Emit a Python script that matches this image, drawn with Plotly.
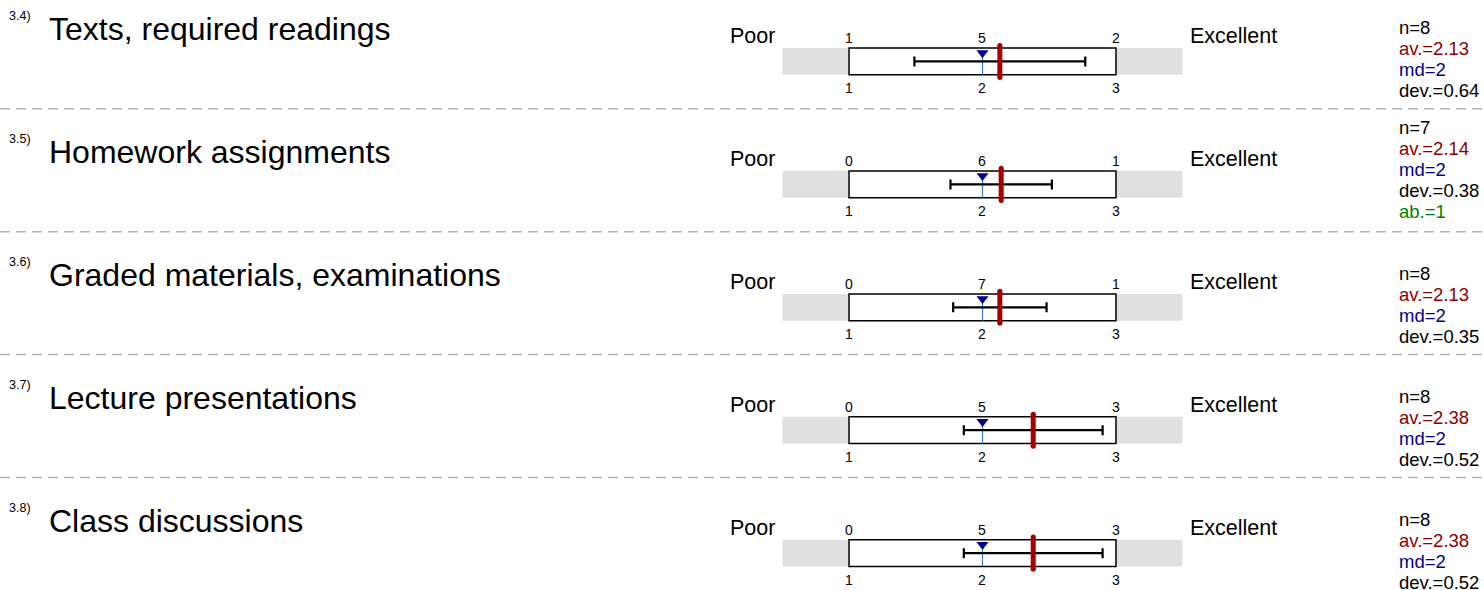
import plotly.graph_objects as go

# ---------------- data ----------------
numbers = ["3.4)", "3.5)", "3.6)", "3.7)", "3.8)"]
items = ["Texts, required readings", "Homework assignments",
         "Graded materials, examinations", "Lecture presentations",
         "Class discussions"]
scale_values = [1, 2, 3]
scale_labels = ["1", "2", "3"]
counts = [[1, 5, 2], [0, 6, 1], [0, 7, 1], [0, 5, 3], [0, 5, 3]]
n_resp = [8, 7, 8, 8, 8]
averages = [2.13, 2.14, 2.13, 2.38, 2.38]
medians = [2, 2, 2, 2, 2]
deviations = [0.64, 0.38, 0.35, 0.52, 0.52]
abstentions = [None, 1, None, None, None]
left_pole = "Poor"
right_pole = "Excellent"

# ---------------- styling ----------------
W, H = 1484, 590
ROW_PX = 122.9
FONT = "Liberation Sans, Arial, sans-serif"
C_MEAN = "#a80000"
C_AV = "#8b0000"
C_MD = "#00008b"
C_AB = "#008000"
C_MEDLINE = "#3a7cc4"
C_BAND = "#e0e0e0"
C_SEP = "#b4b4b4"


def u(px):
    return px / ROW_PX


rows = list(range(len(items)))
smin, smax = min(scale_values), max(scale_values)
half = 0.5

fig = go.Figure()

# gray band and white box per row
for r in rows:
    fig.add_shape(type="rect", xref="x", yref="y", layer="below",
                  x0=smin - half, x1=smax + half, y0=r - u(13.4), y1=r + u(13.4),
                  fillcolor=C_BAND, line=dict(width=0))
    fig.add_shape(type="rect", xref="x", yref="y", layer="below",
                  x0=smin, x1=smax, y0=r - u(13.4), y1=r + u(13.4),
                  fillcolor="white", line=dict(color="black", width=1.5))
    if r < len(items) - 1:
        fig.add_shape(type="line", xref="paper", yref="y", x0=0, x1=1,
                      y0=r + u(47.3), y1=r + u(47.3),
                      line=dict(color=C_SEP, width=1.5, dash="10px,6px"))

# median thin line
mx, my = [], []
for r in rows:
    mx += [medians[r], medians[r], None]
    my += [r - u(8), r + u(13.4), None]
fig.add_trace(go.Scatter(x=mx, y=my, mode="lines",
                         line=dict(color=C_MEDLINE, width=1.2),
                         hoverinfo="skip", showlegend=False))

# standard deviation error bars
fig.add_trace(go.Scatter(x=averages, y=rows, mode="markers",
                         marker=dict(size=1, color="rgba(0,0,0,0)"),
                         error_x=dict(type="data", array=deviations, symmetric=True,
                                      color="black", thickness=2.2, width=5),
                         hoverinfo="skip", showlegend=False))

# median triangle
fig.add_trace(go.Scatter(x=medians, y=[r - u(8.5) for r in rows], mode="markers",
                         marker=dict(symbol="triangle-down", size=10.5, color=C_MD,
                                     line=dict(width=0)),
                         hoverinfo="skip", showlegend=False))

# mean thick red line
ax, ay = [], []
for r in rows:
    ax += [averages[r], averages[r], None]
    ay += [r - u(16), r + u(16), None]
fig.add_trace(go.Scatter(x=ax, y=ay, mode="lines+markers",
                         line=dict(color=C_MEAN, width=5),
                         marker=dict(size=5, color=C_MEAN),
                         hoverinfo="skip", showlegend=False))

ann = []
for r in rows:
    ann.append(dict(xref="paper", yref="y", x=7 / W, y=r, yshift=45,
                    text=numbers[r], xanchor="left", yanchor="middle",
                    showarrow=False, font=dict(size=12.5, color="black", family=FONT)))
    ann.append(dict(xref="paper", yref="y", x=47 / W, y=r, yshift=32,
                    text=items[r], xanchor="left", yanchor="middle",
                    showarrow=False, font=dict(size=32, color="black", family=FONT)))
    ann.append(dict(xref="paper", yref="y", x=777 / W, y=r, yshift=25.5,
                    text=left_pole, xanchor="right", yanchor="middle",
                    showarrow=False, font=dict(size=21.5, color="black", family=FONT)))
    ann.append(dict(xref="paper", yref="y", x=1188 / W, y=r, yshift=25.5,
                    text=right_pole, xanchor="left", yanchor="middle",
                    showarrow=False, font=dict(size=21.5, color="black", family=FONT)))
    for v, lab, c in zip(scale_values, scale_labels, counts[r]):
        ann.append(dict(xref="x", yref="y", x=v, y=r, yshift=23,
                        text=str(c), xanchor="center", yanchor="middle",
                        showarrow=False, font=dict(size=14, color="black", family=FONT)))
        ann.append(dict(xref="x", yref="y", x=v, y=r, yshift=-26.5,
                        text=lab, xanchor="center", yanchor="middle",
                        showarrow=False, font=dict(size=14, color="black", family=FONT)))
    lines = [(f"n={n_resp[r]}", "black"),
             (f"av.={averages[r]:.2f}", C_AV),
             (f"md={medians[r]}", C_MD),
             (f"dev.={deviations[r]:.2f}", "black")]
    if abstentions[r] is not None:
        lines.append((f"ab.={abstentions[r]}", C_AB))
    start = 33.7 + 21 * (len(lines) - 4) * 1.1
    for i, (t, c) in enumerate(lines):
        ann.append(dict(xref="paper", yref="y", x=1397 / W, y=r,
                        yshift=start - 21 * i, text=t, xanchor="left",
                        yanchor="middle", showarrow=False,
                        font=dict(size=18.5, color=c, family=FONT)))

fig.update_layout(
    width=W, height=H,
    margin=dict(l=0, r=0, t=0, b=0, pad=0),
    paper_bgcolor="white", plot_bgcolor="white",
    showlegend=False,
    annotations=ann,
    font=dict(family=FONT),
    xaxis=dict(range=[smin - half, smax + half],
               domain=[782.3 / W, 1182.7 / W],
               visible=False, fixedrange=True),
    yaxis=dict(range=[4.3, -0.5], domain=[0, 1],
               visible=False, fixedrange=True),
)

fig.write_html("out.html", config={"displayModeBar": False},
               post_script="document.body.style.margin='0';")
